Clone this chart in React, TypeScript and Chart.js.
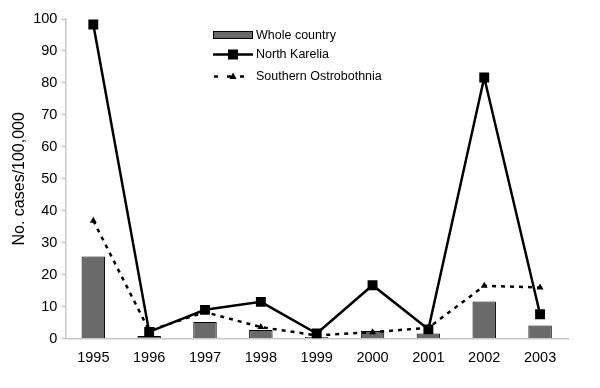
import React, { useEffect, useRef } from "react";
import { Chart, registerables } from "chart.js";

Chart.register(...registerables);

const years = ["1995", "1996", "1997", "1998", "1999", "2000", "2001", "2002", "2003"];
const wholeCountry = [25.7, 0.8, 5.2, 2.7, 0.5, 2.4, 1.6, 11.6, 4.1];
const northKarelia = [98.3, 2.1, 9.0, 11.5, 1.6, 16.7, 2.9, 81.7, 7.6];
const southernOstrobothnia = [36.9, 2.5, 8.3, 3.6, 1.0, 2.0, 3.4, 16.5, 16.0];
const seriesNames = ["Whole country", "North Karelia", "Southern Ostrobothnia"];
const yTitle = "No. cases/100,000";

const FONT = "'Liberation Sans', Arial, sans-serif";
const BAR_FILL = "#6a6a6a";

const legendPlugin = {
  id: "customLegend",
  afterDatasetsDraw(chart: any) {
    const ctx = chart.ctx as CanvasRenderingContext2D;
    ctx.save();
    const x0 = 213;
    const x1 = 253;
    const tx = 256;
    const rows = [35, 54.5, 76.5];
    ctx.font = `12.5px ${FONT}`;
    ctx.fillStyle = "#000";
    ctx.textBaseline = "middle";
    ctx.fillStyle = BAR_FILL;
    ctx.fillRect(x0, rows[0] - 4, x1 - x0, 8);
    ctx.strokeStyle = "#000";
    ctx.lineWidth = 1;
    ctx.strokeRect(x0 + 0.5, rows[0] - 3.5, x1 - x0 - 1, 7);
    ctx.beginPath();
    ctx.lineWidth = 2.5;
    ctx.moveTo(x0, rows[1]);
    ctx.lineTo(x1, rows[1]);
    ctx.stroke();
    ctx.fillStyle = "#000";
    ctx.fillRect((x0 + x1) / 2 - 5, rows[1] - 5, 10, 10);
    ctx.beginPath();
    ctx.setLineDash([4, 9]);
    ctx.moveTo(x0 + 1, rows[2]);
    ctx.lineTo(x1, rows[2]);
    ctx.stroke();
    ctx.setLineDash([]);
    ctx.beginPath();
    const cx = (x0 + x1) / 2;
    ctx.moveTo(cx, rows[2] - 4);
    ctx.lineTo(cx + 3.5, rows[2] + 2.5);
    ctx.lineTo(cx - 3.5, rows[2] + 2.5);
    ctx.closePath();
    ctx.fill();
    ctx.fillStyle = "#000";
    seriesNames.forEach((n, i) => ctx.fillText(n, tx, rows[i] + 0.5));
    ctx.restore();
  },
};

export default function App() {
  const ref = useRef<HTMLCanvasElement>(null);
  useEffect(() => {
    document.body.style.margin = "0";
    const chart = new Chart(ref.current!, {
      type: "bar",
      data: {
        labels: years,
        datasets: [
          {
            type: "bar",
            label: seriesNames[0],
            data: wholeCountry,
            backgroundColor: BAR_FILL,
            borderColor: "#000",
            borderWidth: 1,
            barPercentage: 0.42,
            categoryPercentage: 1,
            order: 3,
          } as any,
          {
            type: "line",
            label: seriesNames[1],
            data: northKarelia,
            borderColor: "#000",
            backgroundColor: "#000",
            borderWidth: 2.5,
            pointStyle: "rect",
            pointRadius: 7,
            pointBorderWidth: 0,
            tension: 0,
            order: 1,
          },
          {
            type: "line",
            label: seriesNames[2],
            data: southernOstrobothnia,
            borderColor: "#000",
            backgroundColor: "#000",
            borderWidth: 2.5,
            borderDash: [4, 5],
            pointStyle: "triangle",
            pointRadius: 4,
            pointBorderWidth: 0,
            tension: 0,
            order: 2,
          },
        ],
      },
      options: {
        animation: false,
        responsive: false,
        layout: { padding: { left: 6, right: 32, top: 19, bottom: 18 } },
        plugins: { legend: { display: false }, tooltip: { enabled: false } },
        scales: {
          x: {
            grid: { display: false },
            border: { color: "#c8c8c8", width: 1.5 },
            ticks: { color: "#000", font: { family: FONT, size: 14.5 }, padding: 3, maxRotation: 0 },
          },
          y: {
            min: 0,
            max: 100,
            grid: { drawOnChartArea: false, color: "#c8c8c8", tickLength: 4, tickWidth: 1.5 },
            border: { color: "#c8c8c8", width: 1.5 },
            ticks: { stepSize: 10, color: "#000", font: { family: FONT, size: 14.5 }, padding: 4 },
            title: { display: true, text: yTitle, color: "#000", font: { family: FONT, size: 16 }, padding: { top: 4, bottom: 0 } },
          },
        },
      },
      plugins: [legendPlugin],
    });
    return () => chart.destroy();
  }, []);
  return (
    <div style={{ position: "absolute", left: 0, top: 0, width: 600, height: 388, background: "#fff" }}>
      <canvas ref={ref} width={600} height={388} />
    </div>
  );
}
